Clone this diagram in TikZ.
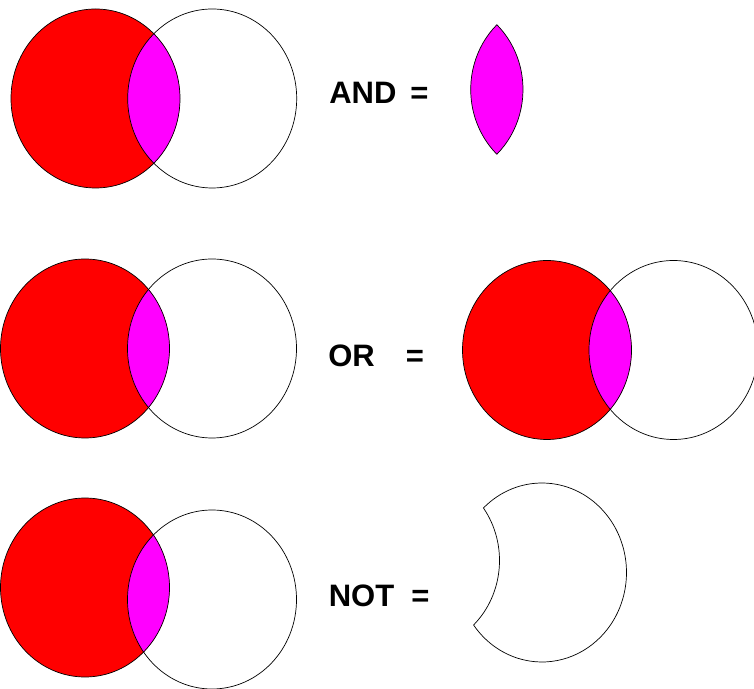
\documentclass[tikz,border=0pt]{standalone}
\usepackage{fontspec}
\setmainfont{Liberation Sans}
\definecolor{setred}{RGB}{255,0,0}
\definecolor{setpink}{RGB}{255,0,255}
\begin{document}
\begin{tikzpicture}[x=1pt,y=1pt,line width=0.7pt]
      \tikzstyle{setA}=[fill=setred]
      \tikzstyle{both}=[fill=setpink]
      \tikzstyle{rad}=[x radius=84.5,y radius=89.5]
      \tikzstyle{op}=[anchor=base west,inner sep=0pt,font=\fontsize{31}{31}\selectfont\bfseries]

      \useasboundingbox (0,0) rectangle (754,688);

      \coordinate (redA)   at (95.5,589.5);
      \coordinate (whiteA) at (212.2,589.5);
      \coordinate (redB)   at (85,339.5);
      \coordinate (whiteB) at (212,339.5);
      \coordinate (redC)   at (85,100.5);
      \coordinate (whiteC) at (212,88.5);
      \coordinate (redOR)  at (547,338);
      \coordinate (whiteOR)at (673.5,338);
      \coordinate (lensAND)at (438.5,598.5);
      \coordinate (moonNOT)at (542,115.5);

      % AND row
      \fill[setA] (redA) ellipse[rad];
      \begin{scope}
        \clip (redA) ellipse[rad];
        \fill[both] (whiteA) ellipse[rad];
      \end{scope}
      \draw (redA) ellipse[rad];
      \draw (whiteA) ellipse[rad];
      \node[op] (and) at (329,584.7) {AND\hspace{14pt}=};
      \draw[both] (lensAND) ++(46.33:84.5 and 89.5)
            arc[start angle=133.67,end angle=226.33,rad]
            arc[start angle=-46.33,end angle=46.33,rad] -- cycle;

      % OR row
      \fill[setA] (redB) ellipse[rad];
      \begin{scope}
        \clip (redB) ellipse[rad];
        \fill[both] (whiteB) ellipse[rad];
      \end{scope}
      \draw (redB) ellipse[rad];
      \draw (whiteB) ellipse[rad];
      \node[op] (or) at (328,321.3) {OR\hspace{31pt}=};
      \fill[setA] (redOR) ellipse[rad];
      \begin{scope}
        \clip (redOR) ellipse[rad];
        \fill[both] (whiteOR) ellipse[rad];
      \end{scope}
      \draw (redOR) ellipse[rad];
      \draw (whiteOR) ellipse[rad];

      % NOT row
      \fill[setA] (redC) ellipse[rad];
      \begin{scope}
        \clip (redC) ellipse[rad];
        \fill[both] (whiteC) ellipse[rad];
      \end{scope}
      \draw (redC) ellipse[rad];
      \draw (whiteC) ellipse[rad];
      \node[op] (not) at (328.5,82) {NOT\hspace{17pt}=};
      \draw (moonNOT) ++(133.88:84.5 and 89.5)
            arc[start angle=133.88,end angle=-144.08,rad]
            arc[start angle=-46.12,end angle=35.92,rad] -- cycle;
\end{tikzpicture}
\end{document}
